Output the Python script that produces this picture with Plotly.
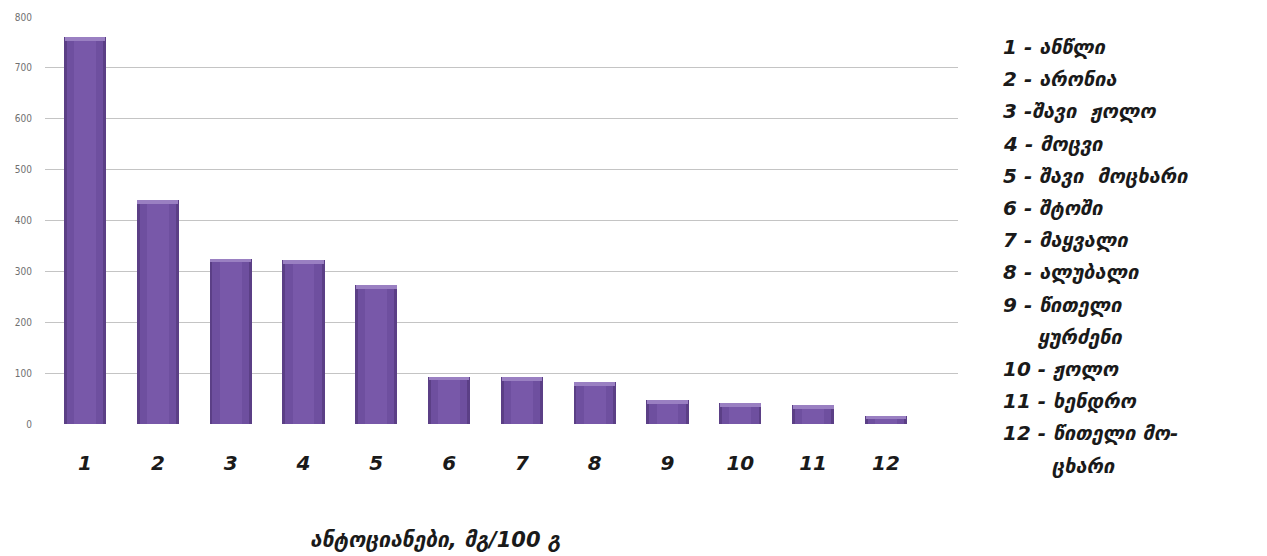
import plotly.graph_objects as go

# Anthocyanin content of berries, mg per 100 g
categories = [1, 2, 3, 4, 5, 6, 7, 8, 9, 10, 11, 12]
values = [760, 440, 325, 322, 273, 93, 92, 82, 47, 41, 37, 16]
tick_labels = [str(c) for c in categories]
y_ticks = [0, 100, 200, 300, 400, 500, 600, 700, 800]

# Key lines shown beside the chart (continuation lines have no number)
key_lines = [
    "1 - ანწლი",
    "2 - არონია",
    "3 -შავი  ჟოლო",
    "4 - მოცვი",
    "5 - შავი  მოცხარი",
    "6 - შტოში",
    "7 - მაყვალი",
    "8 - ალუბალი",
    "9 - წითელი",
    "     ყურძენი",
    "10 - ჟოლო",
    "11 - ხენდრო",
    "12 - წითელი მო-",
    "       ცხარი",
]
x_title = "ანტოციანები, მგ/100 გ"

W, H = 1267, 556
L, R, T, B = 45, 309, 17, 132
plot_w = W - L - R
plot_h = H - T - B

GEO_FONT = "DejaVu Sans"

fig = go.Figure()

# Layered bars give a rounded, shaded look to each column
fig.add_trace(go.Bar(x=categories, y=values, width=0.58,
                     marker=dict(color="#5b3f86", line=dict(width=0)),
                     hoverinfo="skip", showlegend=False))
fig.add_trace(go.Bar(x=categories, y=values, width=0.50,
                     marker=dict(color="#6e4f9f", line=dict(width=0)),
                     hoverinfo="skip", showlegend=False))
fig.add_trace(go.Bar(x=categories, y=values, width=0.30,
                     marker=dict(color="#7858a9", line=dict(width=0)),
                     hoverinfo="skip", showlegend=False))
# lighter cap on top of each column
cap = 7
fig.add_trace(go.Bar(x=categories, y=[cap] * len(values),
                     base=[v - cap for v in values], width=0.56,
                     marker=dict(color="#9a80c2", line=dict(width=0)),
                     hoverinfo="skip", showlegend=False))

fig.update_layout(
    width=W, height=H,
    margin=dict(l=L, r=R, t=T, b=B),
    paper_bgcolor="white", plot_bgcolor="white",
    barmode="overlay",
    bargap=0,
    showlegend=False,
    xaxis=dict(
        range=[0.45, 12.99],
        tickvals=categories, ticktext=tick_labels,
        showgrid=False, zeroline=False, showline=False,
        ticks="", ticklabelstandoff=25,
        tickfont=dict(family=GEO_FONT, size=20, color="#1a1a1a",
                      weight="bold", style="italic"),
    ),
    yaxis=dict(
        range=[0, 800],
        tickvals=y_ticks,
        showgrid=True, gridcolor="#c4c4c4", gridwidth=1,
        zeroline=False, showline=False,
        ticks="", ticklabelstandoff=12,
        tickfont=dict(family="DejaVu Sans Condensed", size=10, color="#707070"),
    ),
)

# key text on the right
line_y0 = 47
line_step = 32.2
for i, txt in enumerate(key_lines):
    py = line_y0 + i * line_step
    fig.add_annotation(
        xref="paper", yref="paper",
        x=(1001 - L) / plot_w, y=(H - B - py) / plot_h,
        xanchor="left", yanchor="middle",
        text=txt, showarrow=False,
        font=dict(family=GEO_FONT, size=20, color="#1a1a1a",
                  weight="bold", style="italic"),
    )

# axis caption under the chart
fig.add_annotation(
    xref="paper", yref="paper",
    x=(435 - L) / plot_w, y=(H - B - 540) / plot_h,
    xanchor="center", yanchor="middle",
    text=x_title, showarrow=False,
    font=dict(family=GEO_FONT, size=21, color="#1a1a1a",
              weight="bold", style="italic"),
)

fig.write_html("out.html")
